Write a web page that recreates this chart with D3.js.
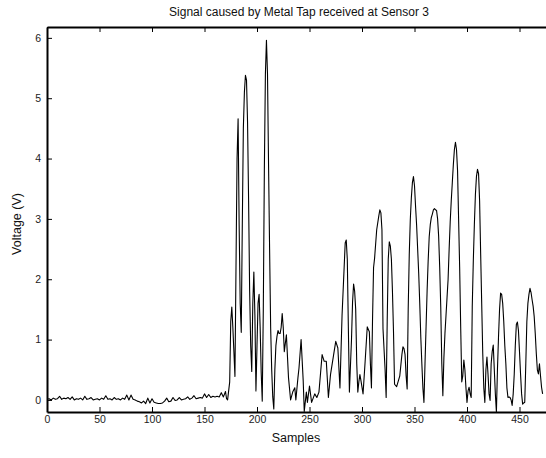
<!DOCTYPE html>
<html>
<head>
<meta charset="utf-8">
<script src="https://cdn.jsdelivr.net/npm/d3@7"></script>
<style>
  body { margin: 0; background: #fff; }
  svg { display: block; font-family: "Liberation Sans", Arial, sans-serif; }
</style>
</head>
<body>
<div id="my_dataviz"></div>
<script>
// values (sample index, volts)
var samples = [0,2,4,6,8,10,12,14,16,18,20,22,24,26,28,30,32,34,36,38,40,42,44,46,48,50,52,54,56,58,60,62,64,66,68,70,72,74,76,78,80,82,84,86,88,90,92,94,96,98,100,102,104,106,108,110,112,114,116,118,120,122,124,126,128,130,132,134,136,138,140,142,144,146,148,150,152,154,156,158,160,162,164,166,168,170,171,172,
  174,175,176,177,178,179,180,181,182,183,184,185,186,187,188,189,190,191,192,193,194,195,196,197,198,199,200,201,202,203,204,205,206,207,208,209,210,211,212,213,214,215,216,217,218,219,220,221,222,223,224,225,226,228,230,232,234,236,237,239,240,242,244,245,247,248,250,252,255,257,259,262,264,266,268,270,273,275,277,279,281,283,284,285,286,287,288,290,291,292,293,294,295,296,297,298,299,301,303,305,307,308,309,310,311,312,314,316,317,318,319,320,322,323,324,325,326,327,328,329,330,331,333,336,338,339,340,341,342,343,344,345,346,347,348,349,350,351,352,353,354,355,356,357,358,359,360,361,362,363,364,365,366,367,368,369,370,371,372,373,374,375,376,377,378,379,380,381,382,383,384,385,386,387,388,389,390,391,392,393,394,395,396,397,398,399,400,401,402,403,404,405,406,407,408,409,410,411,412,413,414,415,416,417,418,419,420,421,422,423,424,425,426,427,428,429,430,431,432,433,434,435,436,437,438,439,440,441,442,443,444,445,446,447,448,449,450,451,452,453,454,455,456,457,458,459,460,461,462,463,464,465,466,467,468,469,470,471,472,473];

var voltage = [0.01,0.02,0.0,0.03,0.01,0.02,0.06,0.01,0.03,0.02,0.04,0.01,0.05,0.0,0.02,0.01,0.03,0.0,0.06,0.01,0.02,0.04,0.0,0.01,0.02,0.0,0.03,0.01,0.07,0.01,0.02,0.0,0.04,0.01,0.02,0.0,0.03,0.01,0.08,0.0,0.08,0.01,0.0,-0.02,-0.03,-0.05,-0.02,-0.06,0.03,-0.05,0.02,-0.04,-0.05,-0.06,-0.06,-0.05,-0.02,0.03,-0.03,-0.02,0.04,-0.01,0.0,0.04,0.0,0.01,0.02,0.05,0.01,0.03,0.07,0.02,0.03,0.04,0.03,0.1,0.04,0.09,0.04,0.06,0.05,0.06,0.05,0.12,0.05,0.14,0.02,0.0,
  0.3,1.3,1.54,1.2,0.8,0.39,2.2,4.0,4.66,2.9,1.6,1.12,2.9,4.5,5.1,5.38,5.3,4.6,3.3,1.8,0.9,0.47,1.6,2.12,1.4,0.15,0.9,1.6,1.75,1.2,0.45,-0.02,1.5,3.8,5.4,5.96,5.4,3.9,2.5,1.2,0.5,0.05,-0.15,0.5,0.9,1.05,1.15,1.1,1.1,1.2,1.43,1.2,0.8,1.08,0.37,0.0,0.13,0.2,0.0,0.37,0.53,1.0,0.32,-0.19,0.13,-0.04,0.23,-0.04,0.1,0.04,0.13,0.75,0.64,0.64,0.04,0.42,0.75,0.97,0.86,0.2,1.4,2.2,2.6,2.65,2.33,1.2,0.13,1.0,1.62,1.92,1.8,1.5,0.6,0.13,0.3,0.42,0.32,0.1,0.64,1.21,1.13,0.6,0.2,1.3,2.19,2.35,2.82,3.05,3.15,3.1,2.82,1.18,0.5,0.04,1.3,2.33,2.62,2.55,2.33,1.8,1.13,0.26,0.22,0.4,0.75,0.88,0.85,0.75,0.4,0.18,1.5,2.4,2.99,3.35,3.6,3.7,3.55,3.21,2.9,2.5,2.1,1.6,1.04,0.6,0.2,-0.04,0.6,1.2,1.8,2.3,2.7,2.9,3.02,3.08,3.15,3.17,3.15,3.14,3.0,2.71,2.2,1.54,0.6,0.07,0.7,1.1,1.4,1.7,2.0,2.5,2.95,3.3,3.6,3.9,4.15,4.27,4.15,3.8,3.0,2.2,1.2,0.3,0.4,0.66,0.5,0.2,-0.04,0.15,0.21,0.1,0.04,1.54,2.3,2.9,3.4,3.7,3.82,3.75,3.3,2.43,1.6,0.77,0.2,-0.04,0.5,0.71,0.43,0.1,-0.01,0.6,0.8,0.91,0.5,0.1,-0.2,0.5,1.04,1.5,1.77,1.75,1.6,1.3,0.9,0.6,0.2,0.04,0.05,0.04,0.0,-0.09,0.1,0.43,0.9,1.25,1.29,1.15,0.8,0.43,0.1,-0.07,-0.05,-0.04,0.6,1.3,1.6,1.75,1.85,1.78,1.66,1.55,1.38,1.1,0.77,0.5,0.43,0.6,0.4,0.21,0.1];

var xTicks = [0, 50, 100, 150, 200, 250, 300, 350, 400, 450];
var yTicks = [0, 1, 2, 3, 4, 5, 6];

var margin = {top: 27, right: 0, bottom: 46, left: 47},
    width = 525,
    height = 458 - margin.top - margin.bottom;

var svg = d3.select('#my_dataviz')
  .append('svg')
  .attr('width', 546)
  .attr('height', 458)

var g = svg.append('g')
  .attr('transform', 'translate(' + margin.left + ',' + margin.top + ')');

var x = d3.scaleLinear()
  .domain([0, 500])
  .range([0, width]);

var y = d3.scaleLinear()
  .domain([-0.2, 6.18])
  .range([height, 0]);

// bottom axis, ticks pointing inward
var xAxis = g.append('g')
  .attr('transform', 'translate(0,' + height + ')')
  .call(d3.axisBottom(x).tickValues(xTicks).tickSizeInner(-5).tickSizeOuter(0).tickPadding(4));

// top edge of the box
var topAxis = g.append('g')
  .call(d3.axisTop(x).tickValues(xTicks.concat([500])).tickSizeInner(-5).tickSizeOuter(0).tickFormat(''));

var yAxis = g.append('g')
  .call(d3.axisLeft(y).tickValues(yTicks).tickFormat(d3.format('d')).tickSizeInner(-5).tickSizeOuter(0).tickPadding(6));

[xAxis, topAxis, yAxis].forEach(function(a) {
  a.select('.domain').attr('stroke', '#000').attr('stroke-width', 2);
  a.selectAll('.tick line').attr('stroke', '#000').attr('stroke-width', 1);
  a.selectAll('.tick text').attr('fill', '#222').style('font-size', '10.5px');
});

var line = d3.line()
  .x(function(d, i) { return x(samples[i]); })
  .y(function(d) { return y(d); });

g.append('path')
  .datum(voltage)
  .attr('fill', 'none')
  .attr('stroke', '#000')
  .attr('stroke-width', 1.1)
  .attr('stroke-linejoin', 'round')
  .attr('d', line);

// title and labels
svg.append('text')
  .attr('x', 299)
  .attr('y', 16)
  .attr('text-anchor', 'middle')
  .style('font-size', '12px')
  .attr('fill', '#111')
  .text('Signal caused by Metal Tap received at Sensor 3');

svg.append('text')
  .attr('x', 296)
  .attr('y', 442)
  .attr('text-anchor', 'middle')
  .style('font-size', '12.5px')
  .attr('fill', '#111')
  .text('Samples');

svg.append('text')
  .attr('transform', 'translate(21,' + 224 + ') rotate(-90)')
  .attr('text-anchor', 'middle')
  .style('font-size', '12.5px')
  .attr('fill', '#111')
  .text('Voltage (V)');
</script>
</body>
</html>
